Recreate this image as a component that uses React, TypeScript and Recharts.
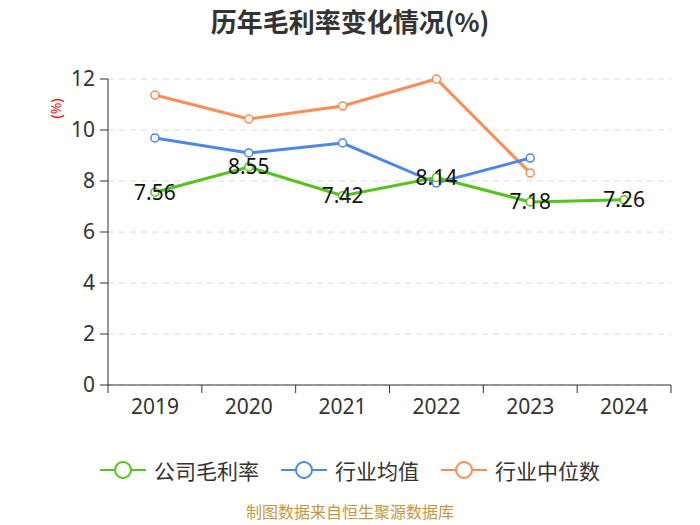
import React from "react";
import { ComposedChart, Line, XAxis, YAxis, CartesianGrid, LabelList } from "recharts";

const years = ["2019", "2020", "2021", "2022", "2023", "2024"];
const companyMargin = [7.56, 8.55, 7.42, 8.14, 7.18, 7.26];
const industryAvg = [9.69, 9.1, 9.49, 7.92, 8.9, null];
const industryMedian = [11.37, 10.43, 10.94, 12.0, 8.31, null];
const yTicks = [0, 2, 4, 6, 8, 10, 12];

const seriesNames = ["公司毛利率", "行业均值", "行业中位数"];
const colors = ["#52c41a", "#4e86ea", "#ff8c55"];

const data = years.map((y, i) => ({
  year: y,
  company: companyMargin[i],
  avg: industryAvg[i],
  median: industryMedian[i],
}));

const W = 700;
const H = 525;
const M = { top: 79, right: 29, left: 0, bottom: 110 };
const YW = 108;
const BW = (W - M.left - YW - M.right) / years.length;
const FONT = '"Noto Sans", "Noto Sans CJK SC", sans-serif';

const XTick = (props: any) => {
  const { x, y, payload, index } = props;
  const isLast = index === years.length - 1;
  return (
    <g>
      <line x1={x - BW / 2} y1={y - 8} x2={x - BW / 2} y2={y} stroke="#333" strokeWidth={1} />
      {isLast && <line x1={x + BW / 2} y1={y - 8} x2={x + BW / 2} y2={y} stroke="#333" strokeWidth={1} />}
      <text x={x} y={y + 21} textAnchor="middle" fontSize={21} fill="#333" fontFamily={FONT}>
        {payload.value}
      </text>
    </g>
  );
};

const LegendContent = () => (
  <div style={{ display: "flex", justifyContent: "center", alignItems: "center", fontFamily: FONT, fontSize: 21, color: "#333" }}>
    {seriesNames.map((n, i) => (
      <div key={n} style={{ display: "flex", alignItems: "center", marginLeft: i === 0 ? 0 : 22 }}>
        <svg width={46} height={20} style={{ marginRight: 8 }}>
          <line x1={0} y1={10} x2={46} y2={10} stroke={colors[i]} strokeWidth={2} />
          <circle cx={23} cy={10} r={8} fill="#fff" stroke={colors[i]} strokeWidth={2} />
        </svg>
        <span>{n}</span>
      </div>
    ))}
  </div>
);

export default function App() {
  return (
    <div style={{ position: "relative", width: W, height: H, background: "#fff", fontFamily: FONT }}>
      <style>{`body{margin:0}`}</style>
      <div style={{ position: "absolute", top: 2, left: 0, width: W, textAlign: "center", fontSize: 26, fontWeight: "bold", color: "#333", fontFamily: '"Noto Sans CJK SC", sans-serif' }}>
        历年毛利率变化情况(%)
      </div>
      <div style={{ position: "absolute", left: 45, top: 98, width: 20, height: 20, display: "flex", alignItems: "center", justifyContent: "center" }}>
        <div style={{ transform: "rotate(-90deg)", color: "#ff0000", fontSize: 14, whiteSpace: "nowrap" }}>(%)</div>
      </div>
      <ComposedChart width={W} height={H} data={data} margin={M}>
        <CartesianGrid vertical={false} stroke="#dcdcdc" strokeDasharray="6 5" />
        <XAxis
          dataKey="year"
          height={30}
          axisLine={{ stroke: "#333" }}
          tickLine={false}
          tick={<XTick />}
          interval={0}
          padding={{ left: BW / 2, right: BW / 2 }}
        />
        <YAxis
          width={YW}
          domain={[0, 12]}
          ticks={yTicks}
          axisLine={{ stroke: "#333" }}
          tickLine={{ stroke: "#333" }}
          tickSize={8}
          tickMargin={5}
          tick={{ fontSize: 21, fill: "#333", fontFamily: FONT }}
        />
        <Line dataKey="median" stroke={colors[2]} strokeWidth={3} dot={{ r: 4, fill: "#fff", stroke: colors[2], strokeWidth: 1.5 }} isAnimationActive={false} />
        <Line dataKey="avg" stroke={colors[1]} strokeWidth={3} dot={{ r: 4, fill: "#fff", stroke: colors[1], strokeWidth: 1.5 }} isAnimationActive={false} />
        <Line dataKey="company" stroke={colors[0]} strokeWidth={3} dot={{ r: 4, fill: "#fff", stroke: colors[0], strokeWidth: 1.5 }} isAnimationActive={false}>
          <LabelList dataKey="company" position="center" fontSize={21} fill="#111" fontFamily={FONT} />
        </Line>
      </ComposedChart>
      <div style={{ position: "absolute", top: 455, left: 0, width: W }}>
        <LegendContent />
      </div>
      <div style={{ position: "absolute", top: 502, left: 0, width: W, height: 19, lineHeight: "19px", textAlign: "center", fontSize: 16, color: "#c8963c", fontFamily: '"Noto Sans CJK SC", sans-serif' }}>
        制图数据来自恒生聚源数据库
      </div>
    </div>
  );
}
